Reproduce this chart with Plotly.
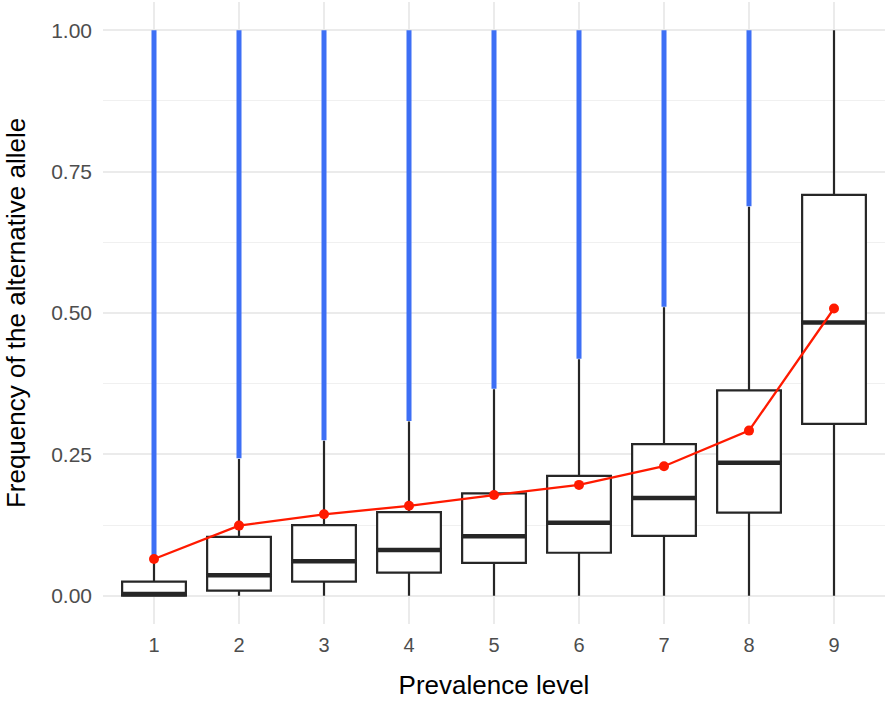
import plotly.graph_objects as go

levels = ["1", "2", "3", "4", "5", "6", "7", "8", "9"]

q1 = [0.0, 0.009, 0.025, 0.041, 0.058, 0.076, 0.106, 0.147, 0.304]
median = [0.003, 0.036, 0.061, 0.081, 0.105, 0.129, 0.173, 0.235, 0.483]
q3 = [0.025, 0.104, 0.125, 0.148, 0.181, 0.212, 0.268, 0.363, 0.709]
lower_whisker = [0.0, 0.0, 0.0, 0.0, 0.0, 0.0, 0.0, 0.0, 0.0]
upper_whisker = [0.062, 0.242, 0.274, 0.308, 0.365, 0.418, 0.510, 0.688, 1.0]

# outliers fill the whole range from whisker to 1, drawn as a dense band
outlier_lo = [0.064, 0.243, 0.275, 0.309, 0.366, 0.419, 0.511, 0.689]
outlier_hi = [1.0, 1.0, 1.0, 1.0, 1.0, 1.0, 1.0, 1.0]

mean = [0.065, 0.124, 0.144, 0.159, 0.178, 0.196, 0.229, 0.292, 0.508]

fig = go.Figure()

for lv, lo, hi in zip(levels, outlier_lo, outlier_hi):
    fig.add_trace(
        go.Scatter(
            x=[lv, lv],
            y=[lo, hi],
            mode="lines",
            line=dict(color="#3D6FF5", width=5),
            showlegend=False,
            hoverinfo="skip"
        )
    )

fig.add_trace(
    go.Box(
        x=levels,
        q1=q1,
        median=median,
        q3=q3,
        lowerfence=lower_whisker,
        upperfence=upper_whisker,
        boxpoints=False,
        width=0.75,
        whiskerwidth=0,
        fillcolor="white",
        line=dict(color="#262626", width=2.2),
        showlegend=False
    )
)

# thicker median bar like ggplot
fig.add_trace(
    go.Scatter(
        x=levels,
        y=median,
        mode="markers",
        marker=dict(symbol="line-ew", size=45,
                    line=dict(color="#262626", width=4.5)),
        showlegend=False,
        hoverinfo="skip"
    )
)

fig.add_trace(
    go.Scatter(
        x=levels,
        y=mean,
        mode="lines+markers",
        line=dict(color="#FF1A00", width=2.3),
        marker=dict(color="#FF1A00", size=10),
        showlegend=False
    )
)

fig.update_layout(
    width=896,
    height=701,
    margin=dict(l=103, r=11, t=2, b=77),
    plot_bgcolor="white",
    paper_bgcolor="white",
    font=dict(family="Liberation Sans, Arial, sans-serif", color="#4D4D4D"),
    xaxis=dict(
        type="category",
        range=[-0.6, 8.6],
        automargin=False,
        showgrid=True,
        gridcolor="#EBEBEB",
        gridwidth=1.6,
        zeroline=False,
        showline=False,
        ticks="",
        ticklabelstandoff=7,
        tickfont=dict(size=20, color="#4D4D4D"),
        title=dict(text="Prevalence level", font=dict(size=26, color="black"), standoff=20)
    ),
    yaxis=dict(
        range=[-0.05, 1.05],
        automargin=False,
        tickvals=[0, 0.25, 0.5, 0.75, 1.0],
        ticktext=["0.00", "0.25", "0.50", "0.75", "1.00"],
        showgrid=True,
        gridcolor="#EBEBEB",
        gridwidth=1.6,
        minor=dict(tickvals=[0.125, 0.375, 0.625, 0.875], showgrid=True,
                   gridcolor="#F0F0F0", gridwidth=1.2),
        zeroline=False,
        showline=False,
        ticks="",
        ticklabelstandoff=10,
        tickfont=dict(size=21, color="#4D4D4D"),
        title=dict(text="Frequency of the alternative allele", font=dict(size=26, color="black"), standoff=18)
    )
)

# drop the browser's default body margin so the figure fills the window
fig.write_html("out.html", config={"displayModeBar": False},
               post_script="document.body.style.margin='0px';")
